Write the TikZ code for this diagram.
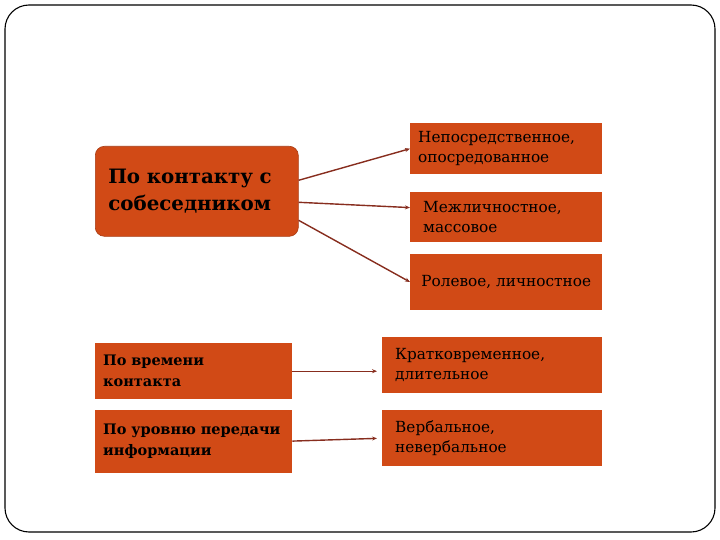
\documentclass[tikz,border=0pt]{standalone}
\usepackage{fontspec}
\setmainfont{DejaVu Serif}
\usetikzlibrary{positioning,arrows.meta}

\definecolor{boxred}{RGB}{209,74,22}
\definecolor{linkred}{RGB}{135,45,30}

\tikzset{
  frame/.style={draw=black, line width=1.1pt, rounded corners=24pt},
  topic/.style={fill=boxred, draw=boxred!80!black, line width=0.6pt, rounded corners=9pt,
    anchor=north west, align=left, inner xsep=13pt,
    font=\bfseries\fontsize{19.8}{27}\selectfont},
  group/.style={fill=boxred, anchor=north west, align=left, inner xsep=8pt,
    font=\bfseries\fontsize{14.5}{21}\selectfont},
  kind/.style={fill=boxred, anchor=north west, align=left, inner xsep=8pt,
    font=\fontsize{15.3}{20}\selectfont},
  link/.style={draw=linkred, line width=1.4pt, -{Stealth[length=5pt,width=4pt]}},
}

\begin{document}
\begin{tikzpicture}[x=1pt, y=-1pt]

      % Page
	  \useasboundingbox (0,0) rectangle (720,540);
	  \draw[frame] (5,5) rectangle (715,532);

      % Define nodes
	  \node[topic, minimum width=203pt, minimum height=90pt, text width=177pt]
	                                           (contact) at (95,146) {По контакту с\\собеседником};
	  \node[kind, minimum width=192pt, minimum height=51pt, text width=176pt]
	                                           (direct) at (410,123) {Непосредственное,\\опосредованное};
	  \node[kind, minimum width=192pt, minimum height=50pt, text width=166pt, inner xsep=13pt, below=17pt of direct.south west, anchor=north west]
	                                           (mass) {Межличностное,\\массовое};
	  \node[kind, minimum width=192pt, minimum height=56pt, inner xsep=4pt, below=12pt of mass.south west, anchor=north west]
	                                           (role) {Ролевое, личностное};
	  \node[group, minimum width=197pt, minimum height=56pt, text width=181pt]
	                                           (time) at (95,343) {По времени\\контакта};
	  \node[group, minimum width=197pt, minimum height=63pt, text width=181pt, below=10pt of time.south west, anchor=north west]
	                                           (level) {По уровню передачи\\информации};
	  \node[kind, minimum width=220pt, minimum height=56pt, text width=194pt, inner xsep=13pt]
	                                           (short) at (382,337) {Кратковременное,\\длительное};
	  \node[kind, minimum width=220pt, minimum height=56pt, text width=194pt, inner xsep=13pt]
	                                           (verbal) at (382,410) {Вербальное,\\невербальное};

	  % Connect the nodes
	  \draw[link] ([yshift=11pt]contact.east) -- (direct.west) ;
	  \draw[link] ([yshift=-11pt]contact.east) -- ([yshift=9pt]mass.west) ;
	  \draw[link] ([yshift=-29pt]contact.east) -- (role.west) ;
	  \draw[link, shorten >=5pt] (time.east) -- (time.east -| short.west) ;
	  \draw[link, shorten >=5pt] (level.east) -- (verbal.west) ;

	\end{tikzpicture}
\end{document}
